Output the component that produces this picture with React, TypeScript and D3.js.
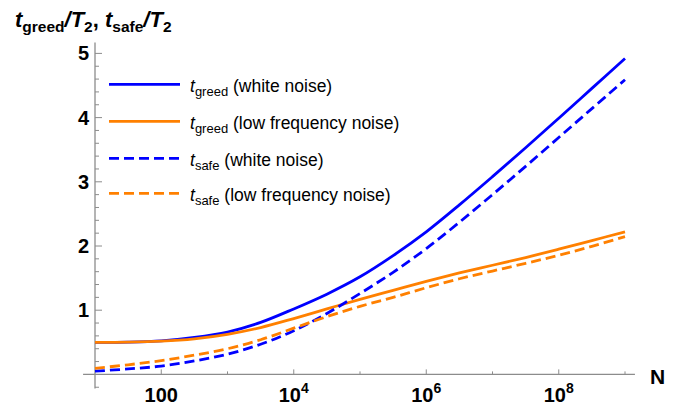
import React from "react";
import * as d3 from "d3";

// Sample positions (log10 N) shared by all four curves
const logN = [1, 1.5, 2, 2.5, 3, 3.5, 4, 4.5, 5, 5.5, 6, 6.5, 7, 7.5, 8, 8.5, 9];

// t_greed / T2 and t_safe / T2 for the two noise models
const greedWhite = [0.5, 0.503, 0.522, 0.575, 0.66, 0.81, 1.02, 1.25, 1.52, 1.85, 2.22, 2.64, 3.08, 3.53, 3.99, 4.455, 4.92];
const greedLowFreq = [0.5, 0.503, 0.518, 0.555, 0.625, 0.73, 0.87, 1.02, 1.17, 1.31, 1.45, 1.58, 1.7, 1.82, 1.95, 2.085, 2.22];
const safeWhite = [0.05, 0.085, 0.13, 0.21, 0.315, 0.47, 0.68, 0.95, 1.26, 1.59, 1.96, 2.37, 2.8, 3.24, 3.69, 4.14, 4.59];
const safeLowFreq = [0.095, 0.15, 0.215, 0.3, 0.4, 0.54, 0.72, 0.9, 1.06, 1.2, 1.35, 1.49, 1.61, 1.73, 1.855, 1.995, 2.145];

const xMajorExp = [2, 4, 6, 8];
const xMinorExp = [3, 5, 7, 9];
const yMajor = [1, 2, 3, 4, 5];

const BLUE = "#0000ff";
const ORANGE = "#ff8000";
const AXIS = "#8c8c8c";
const FONT = "'Liberation Sans', Arial, sans-serif";

const series = [
  { values: greedWhite, color: BLUE, dashed: false, sub: "greed", note: " (white noise)" },
  { values: greedLowFreq, color: ORANGE, dashed: false, sub: "greed", note: " (low frequency noise)" },
  { values: safeWhite, color: BLUE, dashed: true, sub: "safe", note: " (white noise)" },
  { values: safeLowFreq, color: ORANGE, dashed: true, sub: "safe", note: " (low frequency noise)" },
];

export default function App() {
  const W = 693;
  const H = 407;
  const x = d3.scaleLog().domain([10, 1e9]).range([95, 625]);
  const y = d3.scaleLinear().domain([0, 5]).range([374.4, 53.4]);

  const x0 = x(Math.pow(10, 0.82));
  const x1 = x(Math.pow(10, 9.15));
  const yTop = y(5.17);
  const yBot = y(-0.22);

  const line = d3
    .line<[number, number]>()
    .x((d) => x(Math.pow(10, d[0])))
    .y((d) => y(d[1]))
    .curve(d3.curveCatmullRom.alpha(0.5));

  // minor y ticks every 0.2
  const yMinor = d3.range(-0.2, 5.2, 0.2).filter((v) => Math.abs(v - Math.round(v)) > 1e-6);

  const legendY = [84.3, 121.3, 158.3, 193.3];

  return (
    <svg
      width={W}
      height={H}
      style={{ position: "absolute", left: 0, top: 0, background: "#fff" }}
      fontFamily={FONT}
    >
      {/* axes */}
      <line x1={x0} x2={x1} y1={y(0)} y2={y(0)} stroke={AXIS} strokeWidth={1.3} />
      <line x1={x(10)} x2={x(10)} y1={yBot} y2={yTop} stroke={AXIS} strokeWidth={1.3} />

      {/* x ticks */}
      {xMajorExp.map((e) => (
        <line key={"xM" + e} x1={x(Math.pow(10, e))} x2={x(Math.pow(10, e))} y1={y(0)} y2={y(0) - 5} stroke={AXIS} strokeWidth={1} />
      ))}
      {xMinorExp.map((e) => (
        <line key={"xm" + e} x1={x(Math.pow(10, e))} x2={x(Math.pow(10, e))} y1={y(0)} y2={y(0) - 3} stroke={AXIS} strokeWidth={1} />
      ))}
      {xMajorExp.map((e) => (
        <text key={"xl" + e} x={x(Math.pow(10, e))} y={402} textAnchor="middle" fontSize={20} fontWeight="bold">
          {e === 2 ? (
            "100"
          ) : (
            <>
              10
              <tspan fontSize={14} dy={-9}>
                {e}
              </tspan>
            </>
          )}
        </text>
      ))}
      <text x={650} y={384} fontSize={21} fontWeight="bold">
        N
      </text>

      {/* y ticks */}
      {yMajor.map((v) => (
        <line key={"yM" + v} x1={x(10)} x2={x(10) + 7} y1={y(v)} y2={y(v)} stroke={AXIS} strokeWidth={1} />
      ))}
      {yMinor.map((v, i) => (
        <line key={"ym" + i} x1={x(10)} x2={x(10) + 4} y1={y(v)} y2={y(v)} stroke={AXIS} strokeWidth={1} />
      ))}
      {yMajor.map((v) => (
        <text key={"yl" + v} x={89} y={y(v) + 7} textAnchor="end" fontSize={20} fontWeight="bold">
          {v}
        </text>
      ))}

      {/* y axis title */}
      <text x={15} y={27} fontSize={22} fontWeight="bold">
        <tspan fontStyle="italic">t</tspan>
        <tspan fontSize={15.5} dy={5}>greed</tspan>
        <tspan dy={-5} fontStyle="italic">/T</tspan>
        <tspan fontSize={15.5} dy={5}>2</tspan>
        <tspan dy={-5}>, </tspan>
        <tspan fontStyle="italic">t</tspan>
        <tspan fontSize={15.5} dy={5}>safe</tspan>
        <tspan dy={-5} fontStyle="italic">/T</tspan>
        <tspan fontSize={15.5} dy={5}>2</tspan>
      </text>

      {/* curves */}
      {series.map((s, i) => (
        <path
          key={"c" + i}
          d={line(logN.map((e, k) => [e, s.values[k]] as [number, number])) || ""}
          fill="none"
          stroke={s.color}
          strokeWidth={2.8}
          strokeDasharray={s.dashed ? "10 5" : undefined}
        />
      ))}

      {/* legend */}
      {series.map((s, i) => (
        <g key={"lg" + i}>
          <line
            x1={109}
            x2={180}
            y1={legendY[i]}
            y2={legendY[i]}
            stroke={s.color}
            strokeWidth={2.8}
            strokeDasharray={s.dashed ? "10 5" : undefined}
          />
          <text x={190} y={legendY[i] + 7.5} fontSize={17.5}>
            <tspan fontStyle="italic">t</tspan>
            <tspan fontSize={13} dy={4}>{s.sub}</tspan>
            <tspan dy={-4}>{s.note}</tspan>
          </text>
        </g>
      ))}
    </svg>
  );
}
